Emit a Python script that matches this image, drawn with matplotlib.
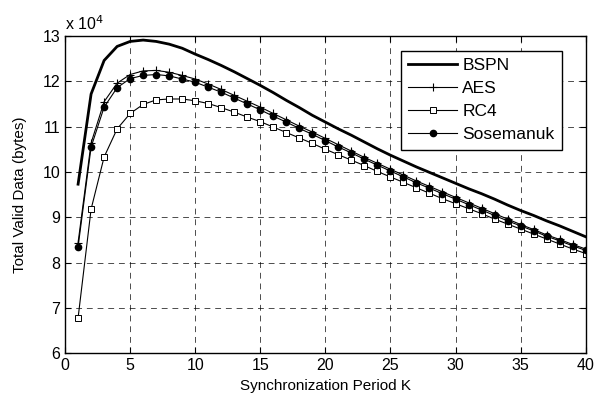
import matplotlib
matplotlib.use("Agg")
import matplotlib.pyplot as plt
import numpy as np

plt.rcParams["font.family"] = ["Liberation Sans", "DejaVu Sans"]

# synchronization period K
period_k = np.arange(1, 41)

# total valid data, in units of 1e4 bytes
bspn = [9.73, 11.72, 12.46, 12.77, 12.88, 12.91, 12.88, 12.82, 12.73, 12.60,
        12.48, 12.35, 12.21, 12.06, 11.91, 11.75, 11.58, 11.42, 11.25, 11.10,
        10.95, 10.81, 10.66, 10.51, 10.37, 10.24, 10.11, 9.99, 9.87, 9.75,
        9.63, 9.52, 9.40, 9.27, 9.15, 9.04, 8.92, 8.81, 8.69, 8.57]
aes = [8.44, 10.64, 11.55, 11.96, 12.15, 12.23, 12.24, 12.20, 12.13, 12.05,
       11.94, 11.82, 11.69, 11.56, 11.43, 11.29, 11.15, 11.01, 10.88, 10.74,
       10.60, 10.46, 10.32, 10.19, 10.06, 9.93, 9.80, 9.68, 9.56, 9.44,
       9.32, 9.20, 9.08, 8.96, 8.84, 8.73, 8.61, 8.51, 8.40, 8.30]
rc4 = [6.78, 9.18, 10.33, 10.95, 11.29, 11.49, 11.59, 11.61, 11.61, 11.57,
       11.51, 11.42, 11.32, 11.21, 11.11, 10.99, 10.87, 10.75, 10.63, 10.50,
       10.38, 10.26, 10.14, 10.01, 9.89, 9.77, 9.65, 9.53, 9.41, 9.30,
       9.19, 9.08, 8.96, 8.85, 8.74, 8.63, 8.52, 8.41, 8.30, 8.20]
sosemanuk = [8.35, 10.55, 11.43, 11.86, 12.06, 12.13, 12.15, 12.12, 12.05, 11.98,
             11.87, 11.76, 11.63, 11.50, 11.37, 11.23, 11.10, 10.96, 10.83, 10.69,
             10.55, 10.42, 10.28, 10.15, 10.02, 9.89, 9.76, 9.64, 9.52, 9.40,
             9.28, 9.16, 9.04, 8.92, 8.81, 8.70, 8.58, 8.48, 8.37, 8.27]

fig = plt.figure(figsize=(5.97, 4.0), dpi=100)
ax = fig.add_axes([0.109, 0.117, 0.872, 0.793])

ax.plot(period_k, bspn, color="black", lw=2.0, label="BSPN")
ax.plot(period_k, aes, color="black", lw=0.8, marker="+", ms=6, mew=0.8, label="AES")
ax.plot(period_k, rc4, color="black", lw=0.8, marker="s", ms=4, mew=0.7,
        mfc="white", label="RC4")
ax.plot(period_k, sosemanuk, color="black", lw=0.8, marker="o", ms=4.5, label="Sosemanuk")

ax.set_xlim(0, 40)
ax.set_ylim(6, 13)
ax.set_xticks(np.arange(0, 41, 5))
ax.set_yticks(np.arange(6, 14, 1))
ax.grid(True, color="black", ls=(0, (6, 5)), lw=0.7, alpha=0.7)
ax.tick_params(direction="in", top=True, right=True, length=4, labelsize=11.5)
for s in ax.spines.values():
    s.set_linewidth(1.0)

ax.set_xlabel("Synchronization Period K", fontsize=11, labelpad=4)
ax.set_ylabel("Total Valid Data (bytes)", fontsize=11, labelpad=11)
ax.text(0.0, 1.01, r"x 10$^{4}$", transform=ax.transAxes, fontsize=11.5,
        ha="left", va="bottom")

leg = ax.legend(loc="upper right", bbox_to_anchor=(0.954, 0.953), fontsize=12.5,
                fancybox=False, framealpha=1, edgecolor="black",
                handlelength=2.8, handletextpad=0.3, borderpad=0.42,
                labelspacing=0.45, borderaxespad=0)
leg.get_frame().set_linewidth(1.0)

fig.savefig("out.png", dpi=100)
